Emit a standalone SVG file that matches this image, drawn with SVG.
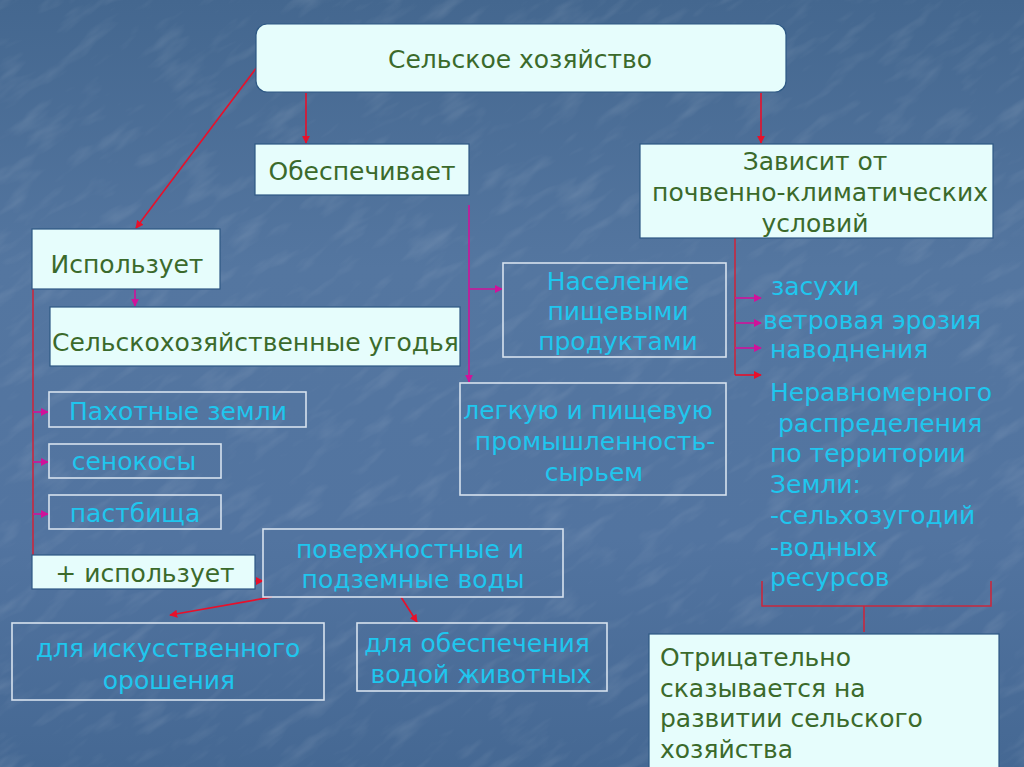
<svg xmlns="http://www.w3.org/2000/svg" width="1024" height="767" viewBox="0 0 1024 767">
<defs>
<linearGradient id="bg" x1="0" y1="0" x2="0" y2="1">
<stop offset="0" stop-color="#44678f"/>
<stop offset="0.35" stop-color="#5476a0"/>
<stop offset="0.7" stop-color="#5274a0"/>
<stop offset="1" stop-color="#456893"/>
</linearGradient>
<filter id="tex" x="0" y="0" width="100%" height="100%">
<feTurbulence type="fractalNoise" baseFrequency="0.02 0.07" numOctaves="3" seed="4" result="n"/>
<feColorMatrix in="n" type="matrix" values="0 0 0 0 1  0 0 0 0 1  0 0 0 0 1  0 0 0 1.2 -0.62"/>
</filter>
<marker id="ar" viewBox="0 0 10 10" refX="9" refY="5" markerWidth="8" markerHeight="8" markerUnits="userSpaceOnUse" orient="auto"><path d="M0,0 L10,5 L0,10 z" fill="#e8102a"/></marker>
<marker id="am" viewBox="0 0 10 10" refX="9" refY="5" markerWidth="8" markerHeight="8" markerUnits="userSpaceOnUse" orient="auto"><path d="M0,0 L10,5 L0,10 z" fill="#d0129a"/></marker>
<style>
.lb{fill:#e6fdfc;stroke:#2e5884;stroke-width:1.2}
.db{fill:none;stroke:#d6e2ee;stroke-width:1.6}
.g{font-family:"DejaVu Sans","Verdana",sans-serif;font-size:25px;fill:#3b6a2b}
.c{font-family:"DejaVu Sans","Verdana",sans-serif;font-size:25px;fill:#1fc6ee}
.m{text-anchor:middle}
.r{stroke:#e8102a;stroke-width:1.6;fill:none}
.p{stroke:#d0129a;stroke-width:1.6;fill:none}
.k{stroke:#c8283e;stroke-width:1.6;fill:none}
</style>
</defs>
<rect width="1024" height="767" fill="url(#bg)"/>
<g transform="rotate(-35 512 384)" opacity="0.2"><rect x="-300" y="-300" width="1624" height="1367" filter="url(#tex)"/></g>

<g id="connectors">
<line class="r" x1="257" y1="67" x2="136" y2="228" marker-end="url(#ar)"/>
<line class="r" x1="306" y1="93" x2="306" y2="143" marker-end="url(#ar)"/>
<line class="r" x1="761" y1="93" x2="761" y2="143" marker-end="url(#ar)"/>
<line class="p" x1="469" y1="205" x2="469" y2="382" marker-end="url(#am)"/>
<line class="p" x1="469" y1="289" x2="502" y2="289" marker-end="url(#am)"/>
<line class="p" x1="135" y1="289" x2="135" y2="306" marker-end="url(#am)"/>
<line class="k" x1="33" y1="289" x2="33" y2="555"/>
<line class="p" x1="33" y1="412" x2="48" y2="412" marker-end="url(#am)"/>
<line class="p" x1="33" y1="462" x2="48" y2="462" marker-end="url(#am)"/>
<line class="p" x1="33" y1="514" x2="48" y2="514" marker-end="url(#am)"/>
<line class="r" x1="255" y1="581" x2="263" y2="581" marker-end="url(#ar)"/>
<line class="r" x1="272" y1="597" x2="170" y2="615" marker-end="url(#ar)"/>
<line class="r" x1="401" y1="597" x2="417" y2="622" marker-end="url(#ar)"/>
<line class="k" x1="735" y1="238" x2="735" y2="375"/>
<line class="p" x1="735" y1="298" x2="761" y2="298" marker-end="url(#am)"/>
<line class="p" x1="735" y1="323" x2="761" y2="323" marker-end="url(#am)"/>
<line class="p" x1="735" y1="348" x2="761" y2="348" marker-end="url(#am)"/>
<line class="r" x1="735" y1="375" x2="761" y2="375" marker-end="url(#ar)"/>
<polyline class="k" points="762,581 762,606 991,606 991,581"/>
<line class="k" x1="864" y1="606" x2="864" y2="632"/>
</g>

<g id="n-selskoe"><rect class="lb" x="256" y="24" width="530" height="68" rx="11"/><text class="g m" x="520" y="68">Сельское хозяйство</text></g>
<g id="n-obespechivaet"><rect class="lb" x="255" y="144" width="214" height="51"/><text class="g m" x="362" y="180">Обеспечивает</text></g>
<g id="n-zavisit"><rect class="lb" x="640" y="144" width="353" height="94"/><text class="g m" x="815" y="170">Зависит от</text><text class="g m" x="820" y="201">почвенно-климатических</text><text class="g m" x="815" y="232">условий</text></g>
<g id="n-ispolzuet"><rect class="lb" x="32" y="229" width="188" height="60"/><text class="g m" x="127" y="273">Использует</text></g>
<g id="n-ugodya"><rect class="lb" x="50" y="307" width="410" height="59"/><text class="g" x="52" y="351">Сельскохозяйственные угодья</text></g>
<g id="n-naselenie"><rect class="db" x="503" y="263" width="223" height="94"/><text class="c m" x="618" y="290">Население</text><text class="c m" x="618" y="320">пищевыми</text><text class="c m" x="618" y="350">продуктами</text></g>
<g id="n-legkuyu"><rect class="db" x="460" y="383" width="266" height="112"/><text class="c m" x="588" y="419">легкую и пищевую</text><text class="c m" x="595" y="450">промышленность-</text><text class="c m" x="594" y="481">сырьем</text></g>
<g id="n-pahotnye"><rect class="db" x="49" y="392" width="257" height="35"/><text class="c m" x="178" y="420">Пахотные земли</text></g>
<g id="n-senokosy"><rect class="db" x="49" y="444" width="172" height="34"/><text class="c m" x="134" y="470">сенокосы</text></g>
<g id="n-pastbischa"><rect class="db" x="49" y="495" width="172" height="34"/><text class="c m" x="135" y="522">пастбища</text></g>
<g id="n-plus"><rect class="lb" x="32" y="555" width="223" height="34"/><text class="g m" x="145" y="582">+ использует</text></g>
<g id="n-vody"><rect class="db" x="263" y="529" width="300" height="68"/><text class="c m" x="410" y="558">поверхностные и</text><text class="c m" x="413" y="588">подземные воды</text></g>
<g id="n-oroshenie"><rect class="db" x="12" y="623" width="312" height="77"/><text class="c m" x="168" y="657">для искусственного</text><text class="c m" x="169" y="689">орошения</text></g>
<g id="n-zhivotnye"><rect class="db" x="357" y="623" width="250" height="68"/><text class="c m" x="477" y="652">для обеспечения</text><text class="c m" x="481" y="683">водой животных</text></g>
<g id="n-faktory">
<text class="c" x="771" y="295">засухи</text>
<text class="c" x="763" y="329">ветровая эрозия</text>
<text class="c" x="770" y="358">наводнения</text>
<text class="c" x="770" y="401">Неравномерного</text>
<text class="c" x="778" y="432">распределения</text>
<text class="c" x="770" y="462">по территории</text>
<text class="c" x="770" y="493">Земли:</text>
<text class="c" x="770" y="524">-сельхозугодий</text>
<text class="c" x="770" y="556">-водных</text>
<text class="c" x="770" y="586">ресурсов</text>
</g>
<g id="n-otricatelno"><rect class="lb" x="649" y="634" width="350" height="140"/><text class="g" x="660" y="666">Отрицательно</text><text class="g" x="660" y="697">сказывается на</text><text class="g" x="660" y="727">развитии сельского</text><text class="g" x="660" y="758">хозяйства</text></g>
</svg>
